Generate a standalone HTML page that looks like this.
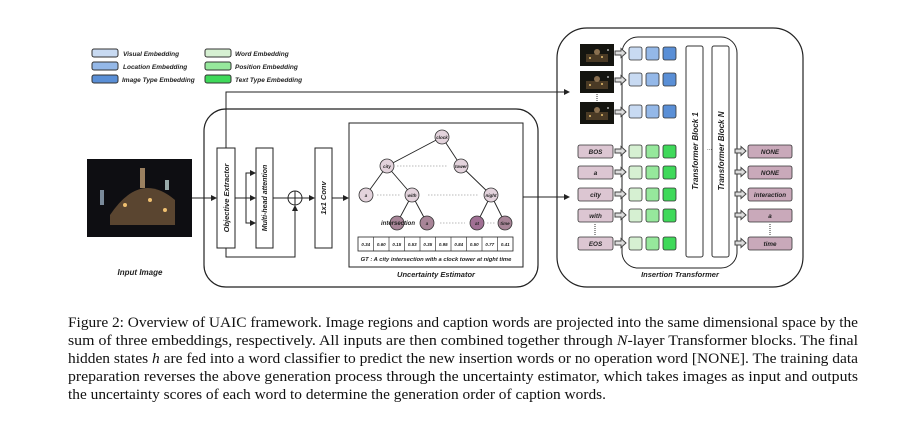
<!DOCTYPE html>
<html><head><meta charset="utf-8"><style>
html,body{margin:0;padding:0;background:#fff;width:918px;height:424px;overflow:hidden}
svg{display:block}
.s{font-family:"Liberation Sans",sans-serif;font-weight:bold;font-style:italic;fill:#222}
.c{font-family:"Liberation Serif",serif;font-size:15px;fill:#111}
</style></head><body>
<svg width="918" height="424" viewBox="0 0 918 424" xmlns="http://www.w3.org/2000/svg">
<defs>
<marker id="ah" markerWidth="6" markerHeight="6" refX="5" refY="3" orient="auto"><path d="M0,0 L6,3 L0,6z" fill="#222"/></marker>
<g id="bigarr"><path d="M0,-2 H6 V-4.5 L11,0 L6,4.5 V2 H0z" fill="#ddd" stroke="#444" stroke-width="1"/></g>
<g id="night">
<rect width="34" height="22" fill="#151510"/>
<rect x="6" y="10" width="22" height="8" fill="#4a3a25"/>
<circle cx="17" cy="8" r="3" fill="#8a7050"/>
<circle cx="10" cy="14" r="1" fill="#e8c070"/><circle cx="22" cy="13" r="1" fill="#e8c070"/><circle cx="28" cy="6" r="1" fill="#aaa"/>
</g>
</defs>

<!-- legend -->
<g stroke="#333" stroke-width="1">
<rect x="92" y="49" width="26" height="8" rx="2" fill="#c8daf2"/>
<rect x="92" y="62" width="26" height="8" rx="2" fill="#94b8e8"/>
<rect x="92" y="75" width="26" height="8" rx="2" fill="#5a8fd6"/>
<rect x="205" y="49" width="26" height="8" rx="2" fill="#d6f0d2"/>
<rect x="205" y="62" width="26" height="8" rx="2" fill="#96e89c"/>
<rect x="205" y="75" width="26" height="8" rx="2" fill="#3fd95a"/>
</g>
<g class="s" font-size="6.5">
<text x="123" y="56">Visual Embedding</text>
<text x="123" y="69">Location Embedding</text>
<text x="122" y="82">Image Type Embedding</text>
<text x="235" y="56">Word Embedding</text>
<text x="235" y="69">Position Embedding</text>
<text x="235" y="82">Text Type Embedding</text>
</g>

<!-- input image -->
<rect x="87" y="159" width="105" height="78" fill="#0e0e12"/>
<path d="M110,215 Q140,170 175,200 L175,225 L110,225z" fill="#5a4530"/>
<rect x="140" y="168" width="5" height="20" fill="#9a8060"/>
<circle cx="125" cy="205" r="2" fill="#f0c070"/><circle cx="150" cy="200" r="2" fill="#f0c070"/><circle cx="165" cy="210" r="2" fill="#f0c070"/>
<rect x="100" y="190" width="4" height="15" fill="#7a8a9a"/><rect x="165" y="180" width="4" height="10" fill="#9aa"/>
<text x="140" y="275" class="s" font-size="8" text-anchor="middle">Input Image</text>

<!-- uncertainty outer -->
<rect x="204" y="109" width="334" height="178" rx="22" fill="none" stroke="#222" stroke-width="1.2"/>
<line x1="192" y1="198" x2="216" y2="198" stroke="#222" marker-end="url(#ah)"/>
<rect x="217" y="148" width="18" height="100" fill="#fff" stroke="#222"/>
<text class="s" font-size="7.5" transform="translate(229,198) rotate(-90)" text-anchor="middle">Objective Extractor</text>
<rect x="256" y="148" width="17" height="100" fill="#fff" stroke="#222"/>
<text class="s" font-size="7" transform="translate(267,198) rotate(-90)" text-anchor="middle">Multi-head attention</text>
<line x1="235" y1="198" x2="255" y2="198" stroke="#222" marker-end="url(#ah)"/>
<path d="M246,198 V173 H255" fill="none" stroke="#222" marker-end="url(#ah)"/>
<path d="M246,198 V223 H255" fill="none" stroke="#222" marker-end="url(#ah)"/>
<line x1="273" y1="198" x2="288" y2="198" stroke="#222"/>
<circle cx="295" cy="198" r="7" fill="#fff" stroke="#222"/>
<line x1="288" y1="198" x2="302" y2="198" stroke="#222"/><line x1="295" y1="191" x2="295" y2="205" stroke="#222"/>
<path d="M226,248 V257 H295 V206" fill="none" stroke="#222" marker-end="url(#ah)"/>
<line x1="302" y1="198" x2="314" y2="198" stroke="#222" marker-end="url(#ah)"/>
<rect x="315" y="148" width="17" height="100" fill="#fff" stroke="#222"/>
<text class="s" font-size="7.5" transform="translate(326,198) rotate(-90)" text-anchor="middle">1x1 Conv</text>
<line x1="332" y1="198" x2="348" y2="198" stroke="#222" marker-end="url(#ah)"/>
<!-- top connector -->
<path d="M226,148 V92 H569" fill="none" stroke="#222" marker-end="url(#ah)"/>

<!-- inner estimator -->
<rect x="349" y="123" width="174" height="144" fill="#fff" stroke="#222"/>
<g stroke="#222" stroke-width="0.9">
<line x1="442" y1="137" x2="387" y2="166"/><line x1="442" y1="137" x2="461" y2="166"/>
<line x1="387" y1="166" x2="366" y2="195"/><line x1="387" y1="166" x2="412" y2="195"/>
<line x1="461" y1="166" x2="491" y2="195"/>
<line x1="412" y1="195" x2="397" y2="223"/><line x1="412" y1="195" x2="427" y2="223"/>
<line x1="491" y1="195" x2="477" y2="223"/><line x1="491" y1="195" x2="505" y2="223"/>
</g>
<g stroke="#777" stroke-width="0.6" stroke-dasharray="1.5,1.5">
<line x1="397" y1="166" x2="447" y2="166"/><line x1="377" y1="195" x2="400" y2="195"/><line x1="428" y1="195" x2="478" y2="195"/>
<line x1="440" y1="223" x2="465" y2="223"/><line x1="487" y1="223" x2="495" y2="223"/>
</g>
<g stroke="#333" stroke-width="0.8">
<circle cx="442" cy="137" r="7" fill="#e3d3dc"/><circle cx="387" cy="166" r="7" fill="#e3d3dc"/><circle cx="461" cy="166" r="7" fill="#e3d3dc"/>
<circle cx="366" cy="195" r="7" fill="#e3d3dc"/><circle cx="412" cy="195" r="7" fill="#e3d3dc"/><circle cx="491" cy="195" r="7" fill="#e3d3dc"/>
<circle cx="397" cy="223" r="7" fill="#a88598"/><circle cx="427" cy="223" r="7" fill="#a88598"/><circle cx="477" cy="223" r="7" fill="#a07094"/><circle cx="505" cy="223" r="7" fill="#a88598"/>
</g>
<g class="s" font-size="4.5" text-anchor="middle">
<text x="442" y="139">clock</text><text x="387" y="168">city</text><text x="461" y="168">tower</text>
<text x="366" y="197">a</text><text x="412" y="197">with</text><text x="491" y="197">night</text>
<text x="398" y="225" font-size="6">intersection</text><text x="427" y="225">a</text><text x="477" y="225">at</text><text x="505" y="225">time</text>
</g>
<g stroke="#222" stroke-width="0.8" fill="#fff">
<rect x="358" y="237" width="155" height="14"/>
</g>
<g stroke="#222" stroke-width="0.6">
<line x1="373.5" y1="237" x2="373.5" y2="251"/><line x1="389" y1="237" x2="389" y2="251"/><line x1="404.5" y1="237" x2="404.5" y2="251"/><line x1="420" y1="237" x2="420" y2="251"/><line x1="435.5" y1="237" x2="435.5" y2="251"/><line x1="451" y1="237" x2="451" y2="251"/><line x1="466.5" y1="237" x2="466.5" y2="251"/><line x1="482" y1="237" x2="482" y2="251"/><line x1="497.5" y1="237" x2="497.5" y2="251"/>
</g>
<g class="s" font-size="4.5" text-anchor="middle">
<text x="365.7" y="246">0.34</text><text x="381.2" y="246">0.60</text><text x="396.7" y="246">0.15</text><text x="412.2" y="246">0.53</text><text x="427.7" y="246">0.35</text><text x="443.2" y="246">0.95</text><text x="458.7" y="246">0.84</text><text x="474.2" y="246">0.50</text><text x="489.7" y="246">0.77</text><text x="505.2" y="246">0.41</text>
</g>
<text x="436" y="261" class="s" font-size="5.8" text-anchor="middle">GT : A city intersection with a clock tower at night time</text>
<text x="436" y="277" class="s" font-size="7.5" text-anchor="middle">Uncertainty Estimator</text>
<line x1="523" y1="197" x2="569" y2="197" stroke="#222" marker-end="url(#ah)"/>

<!-- insertion transformer -->
<rect x="557" y="28" width="246" height="259" rx="30" fill="none" stroke="#222" stroke-width="1.2"/>
<rect x="622" y="37" width="115" height="231" rx="16" fill="none" stroke="#222"/>
<use href="#night" x="580" y="44"/><use href="#night" x="580" y="71"/><use href="#night" x="580" y="102"/>
<line x1="597" y1="94" x2="597" y2="101" stroke="#333" stroke-dasharray="1,1"/>
<g class="s" font-size="6" text-anchor="middle" stroke="#333" stroke-width="0.8">
<rect x="578" y="145" width="35" height="13" rx="2" fill="#dcc6d2"/>
<rect x="578" y="166" width="35" height="13" rx="2" fill="#dcc6d2"/>
<rect x="578" y="188" width="35" height="13" rx="2" fill="#dcc6d2"/>
<rect x="578" y="209" width="35" height="13" rx="2" fill="#dcc6d2"/>
<rect x="578" y="237" width="35" height="13" rx="2" fill="#dcc6d2"/>
<rect x="748" y="145" width="44" height="13" rx="2" fill="#c9a9ba"/>
<rect x="748" y="166" width="44" height="13" rx="2" fill="#c9a9ba"/>
<rect x="748" y="188" width="44" height="13" rx="2" fill="#c9a9ba"/>
<rect x="748" y="209" width="44" height="13" rx="2" fill="#c9a9ba"/>
<rect x="748" y="237" width="44" height="13" rx="2" fill="#c9a9ba"/>
</g>
<g class="s" font-size="6.3" text-anchor="middle">
<text x="595.5" y="154">BOS</text><text x="595.5" y="175">a</text><text x="595.5" y="197">city</text><text x="595.5" y="218">with</text><text x="595.5" y="246">EOS</text>
<text x="770" y="154">NONE</text><text x="770" y="175">NONE</text><text x="770" y="197">interaction</text><text x="770" y="218">a</text><text x="770" y="246">time</text>
</g>
<line x1="595" y1="224" x2="595" y2="235" stroke="#333" stroke-dasharray="1,1"/>
<line x1="770" y1="224" x2="770" y2="235" stroke="#333" stroke-dasharray="1,1"/>
<g>
<use href="#bigarr" x="615" y="53"/><use href="#bigarr" x="615" y="80"/><use href="#bigarr" x="615" y="112"/>
<use href="#bigarr" x="615" y="151"/><use href="#bigarr" x="615" y="172"/><use href="#bigarr" x="615" y="194"/><use href="#bigarr" x="615" y="215"/><use href="#bigarr" x="615" y="243"/>
<use href="#bigarr" x="735" y="151"/><use href="#bigarr" x="735" y="172"/><use href="#bigarr" x="735" y="194"/><use href="#bigarr" x="735" y="215"/><use href="#bigarr" x="735" y="243"/>
</g>
<g stroke="#333" stroke-width="0.8">
<g id="rowb"><rect x="629" y="47" width="13" height="13" rx="2" fill="#c8daf2"/><rect x="646" y="47" width="13" height="13" rx="2" fill="#94b8e8"/><rect x="663" y="47" width="13" height="13" rx="2" fill="#5a8fd6"/></g>
<use href="#rowb" y="26"/><use href="#rowb" y="58"/>
<g id="roww"><rect x="629" y="145" width="13" height="13" rx="2" fill="#d6f0d2"/><rect x="646" y="145" width="13" height="13" rx="2" fill="#96e89c"/><rect x="663" y="145" width="13" height="13" rx="2" fill="#3fd95a"/></g>
<use href="#roww" y="21"/><use href="#roww" y="43"/><use href="#roww" y="64"/><use href="#roww" y="92"/>
</g>
<rect x="686" y="46" width="17" height="211" rx="2" fill="#fff" stroke="#333"/>
<rect x="712" y="46" width="17" height="211" rx="2" fill="#fff" stroke="#333"/>
<text class="s" font-size="8" transform="translate(698,151) rotate(-90)" text-anchor="middle">Transformer Block 1</text>
<text class="s" font-size="8" transform="translate(724,151) rotate(-90)" text-anchor="middle">Transformer Block N</text>
<text x="707" y="150" font-size="6" fill="#333" font-family="Liberation Sans">...</text>
<text x="680" y="277" class="s" font-size="7.5" text-anchor="middle">Insertion Transformer</text>

<!-- caption -->
<g class="c">
<text x="68" y="327" textLength="790" lengthAdjust="spacingAndGlyphs">Figure 2: Overview of UAIC framework. Image regions and caption words are projected into the same dimensional space by the</text>
<text x="68" y="345" textLength="790" lengthAdjust="spacingAndGlyphs">sum of three embeddings, respectively. All inputs are then combined together through <tspan font-style="italic">N</tspan>-layer Transformer blocks. The final</text>
<text x="68" y="363" textLength="790" lengthAdjust="spacingAndGlyphs">hidden states <tspan font-style="italic">h</tspan> are fed into a word classifier to predict the new insertion words or no operation word [NONE]. The training data</text>
<text x="68" y="381" textLength="790" lengthAdjust="spacingAndGlyphs">preparation reverses the above generation process through the uncertainty estimator, which takes images as input and outputs</text>
<text x="68" y="399" textLength="538" lengthAdjust="spacingAndGlyphs">the uncertainty scores of each word to determine the generation order of caption words.</text>
</g>
</svg>
</body></html>
